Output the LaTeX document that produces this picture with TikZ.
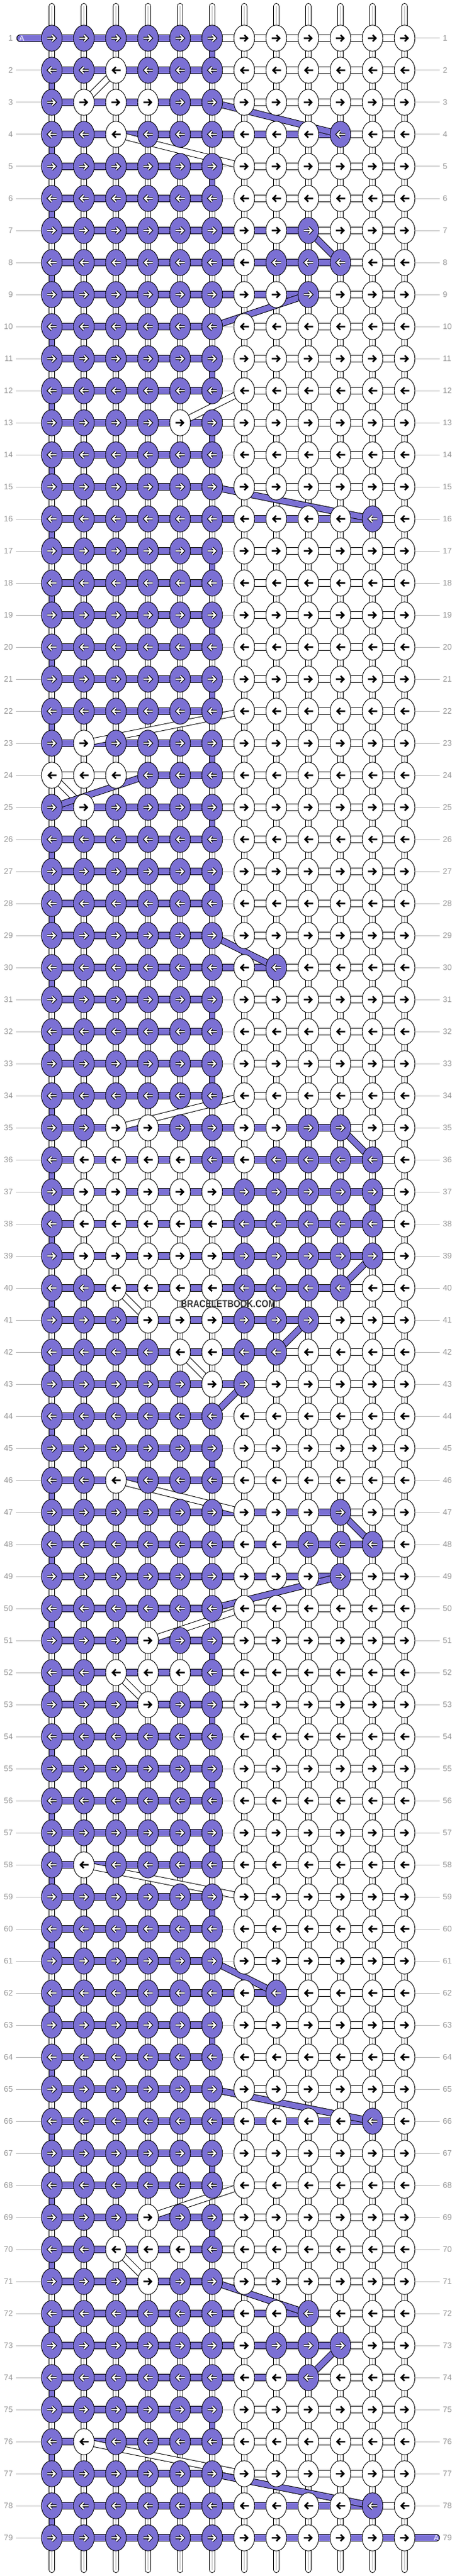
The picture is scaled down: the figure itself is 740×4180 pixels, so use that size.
\documentclass[tikz,border=0pt]{standalone}
\usepackage{fontspec}
\setmainfont{Liberation Sans}
\usetikzlibrary{shapes.geometric}
\definecolor{pp}{RGB}{123,112,212}
\definecolor{lbl}{RGB}{150,150,150}
\definecolor{wm}{RGB}{55,55,55}
\tikzset{
 knotbase/.style={ellipse, draw=black, line width=0.9pt, minimum width=33.6pt, minimum height=42.4pt, inner sep=0pt, outer sep=0pt},
 knotP/.style={knotbase, fill=pp},
 knotW/.style={knotbase, fill=white},
 arrB/.style={draw=black, line width=2.6pt, line join=miter},
 arrO/.style={draw=black, line width=4.4pt, line join=miter},
 arrI/.style={draw=white, line width=2.2pt, line join=miter},
 hO/.style={draw=black, line width=12pt},
 hP/.style={draw=pp, line width=10pt},
 hW/.style={draw=white, line width=10pt},
 vO/.style={draw=black, line width=10.4pt},
 vP/.style={draw=pp, line width=8.4pt},
 vW/.style={draw=white, line width=8.4pt},
 vG/.style={draw=gray!35, line width=2.4pt},
 gapline/.style={draw=gray!50, line width=0.8pt},
 dO/.style={draw=black, line width=11pt},
 dP/.style={draw=pp, line width=9pt},
 dW/.style={draw=white, line width=9pt},
 labelline/.style={draw=lbl!70, line width=1pt},
 lbl/.style={text=lbl, font=\fontsize{13}{13}\selectfont, inner sep=0pt},
}
\def\rowdata{1/{0}/1/6/6/6, 2/{3}/1/6/3/1, 3/{2,3,4}/1/6/2/0, 4/{3,10}/1/10/3/1, 5/{0}/1/6/7/6, 6/{0}/1/6/7/1, 7/{9}/1/9/7/0, 8/{8,9,10}/1/10/7/1, 9/{9}/1/9/7/0, 10/{0}/1/6/7/1, 11/{0}/1/6/7/6, 12/{0}/1/6/7/1, 13/{5}/1/6/5/6, 14/{0}/1/6/7/1, 15/{0}/1/6/7/0, 16/{11}/1/11/7/1, 17/{0}/1/6/7/6, 18/{0}/1/6/7/1, 19/{0}/1/6/7/6, 20/{0}/1/6/7/1, 21/{0}/1/6/7/6, 22/{0}/1/6/7/1, 23/{2}/1/6/2/6, 24/{1,2,3}/4/6/1/0, 25/{2}/1/6/2/6, 26/{0}/1/6/7/1, 27/{0}/1/6/7/6, 28/{0}/1/6/7/1, 29/{0}/1/6/7/0, 30/{8}/1/8/7/1, 31/{0}/1/6/7/6, 32/{0}/1/6/7/1, 33/{0}/1/6/7/6, 34/{0}/1/6/7/1, 35/{3,4,9,10}/1/10/3/0, 36/{2,3,4,5,8,9,10,11}/1/11/2/1, 37/{2,3,4,5,6,7,8,9,10,11}/1/11/2/11, 38/{2,3,4,5,6,7,8,9,10,11}/1/11/2/1, 39/{2,3,4,5,6,7,8,9,10,11}/1/11/2/0, 40/{3,4,5,6,7,8,9,10}/1/10/3/1, 41/{4,5,6,7,8,9}/1/9/4/0, 42/{5,6,7,8}/1/8/5/1, 43/{6,7}/1/7/6/0, 44/{0}/1/6/7/1, 45/{0}/1/6/7/6, 46/{3}/1/6/3/1, 47/{10}/1/10/7/0, 48/{9,10,11}/1/11/7/1, 49/{10}/1/10/7/0, 50/{0}/1/6/7/1, 51/{4}/1/6/4/6, 52/{3,4,5}/1/6/3/1, 53/{4}/1/6/4/6, 54/{0}/1/6/7/1, 55/{0}/1/6/7/6, 56/{0}/1/6/7/1, 57/{0}/1/6/7/6, 58/{2}/1/6/2/1, 59/{0}/1/6/7/6, 60/{0}/1/6/7/1, 61/{0}/1/6/7/0, 62/{8}/1/8/7/1, 63/{0}/1/6/7/6, 64/{0}/1/6/7/1, 65/{0}/1/6/7/0, 66/{11}/1/11/7/1, 67/{0}/1/6/7/6, 68/{0}/1/6/7/1, 69/{4}/1/6/4/6, 70/{3,4,5}/1/6/3/1, 71/{4}/1/6/4/0, 72/{9}/1/9/7/1, 73/{8,9,10}/1/10/7/0, 74/{9}/1/9/7/1, 75/{0}/1/6/7/6, 76/{2}/1/6/2/1, 77/{0}/1/6/7/0, 78/{11}/1/11/7/1, 79/{0}/1/12/7/0}
\begin{document}
\begin{tikzpicture}[x=1pt,y=-1pt]
\useasboundingbox (0,0) rectangle (740,4180);
\fill[white] (0,0) rectangle (740,4180);
% grid coordinates
\foreach \rr in {1,...,79}{
  \foreach \cc in {1,...,12}{
    \coordinate (p-\rr-\cc) at ({84+(\cc-1)*52},{62+(\rr-1)*52});
  }
}
% toggles
\foreach \rr/\tg/\pa/\pb/\wa/\pv in \rowdata {
  \foreach \t in \tg {\expandafter\gdef\csname tg-\rr-\t\endcsname{}}
}
% label lines
\foreach \rr in {1,...,79}{
  \pgfmathsetmacro\Y{62+(\rr-1)*52}
  \ifnum\rr>1
    \coordinate (lls-\rr) at (26,\Y);
    \draw[labelline] (lls-\rr) -- (p-\rr-1);
  \fi
  \ifnum\rr<79
    \coordinate (lrs-\rr) at (713,\Y);
    \draw[labelline] (p-\rr-12) -- (lrs-\rr);
  \fi
}
% top and bottom strings
\foreach \cc in {1,...,12}{
  \pgfmathsetmacro\X{84+(\cc-1)*52}
  \coordinate (t-\cc) at (\X,10.2);
  \coordinate (b-\cc) at (\X,4169.8);
  \draw[vO, line cap=round] (t-\cc) -- (p-1-\cc);
  \draw[vW, line cap=round] (t-\cc) -- (p-1-\cc);
  \draw[vG] (t-\cc) -- (p-1-\cc);
  \draw[vO, line cap=round] (p-79-\cc) -- (b-\cc);
  \draw[vW, line cap=round] (p-79-\cc) -- (b-\cc);
  \draw[vG] (p-79-\cc) -- (b-\cc);
}
% vertical connectors
\foreach \rr/\tg/\pa/\pb/\wa/\pv in \rowdata {
  \ifnum\rr<79
  \pgfmathtruncatemacro\rn{\rr+1}
  \foreach \cc in {1,...,12}{
    \ifnum\cc=\pv\relax
      \draw[vO] (p-\rr-\cc) -- (p-\rn-\cc);
      \draw[vP] (p-\rr-\cc) -- (p-\rn-\cc);
    \else
      \draw[vO] (p-\rr-\cc) -- (p-\rn-\cc);
      \draw[vW] (p-\rr-\cc) -- (p-\rn-\cc);
      \draw[vG] (p-\rr-\cc) -- (p-\rn-\cc);
    \fi
  }
  \fi
}
% horizontal bars
\foreach \rr/\tg/\pa/\pb/\wa/\pv in \rowdata {
  \foreach \cc in {1,...,11}{
    \pgfmathtruncatemacro\cn{\cc+1}
    \pgfmathtruncatemacro\isP{and(\cc>=\pa,\cn<=\pb)}
    \pgfmathtruncatemacro\isW{\cc>=\wa}
    \ifnum\isP=1
      \draw[hO] (p-\rr-\cc) -- (p-\rr-\cn);
      \draw[hP] (p-\rr-\cc) -- (p-\rr-\cn);
    \else
      \ifnum\isW=1
        \draw[hO] (p-\rr-\cc) -- (p-\rr-\cn);
        \draw[hW] (p-\rr-\cc) -- (p-\rr-\cn);
      \else
        \draw[gapline] (p-\rr-\cc) -- (p-\rr-\cn);
      \fi
    \fi
  }
}
% A stubs
\coordinate (aL) at (32.7,62);
\coordinate (aR) at (707.3,4118);
\draw[hO, line cap=round] (aL) -- (p-1-1);
\draw[hP, line cap=round] (aL) -- (p-1-1);
\draw[hO, line cap=round] (p-79-12) -- (aR);
\draw[hP, line cap=round] (p-79-12) -- (aR);
% white diagonals
\foreach \rr/\ca/\cb in {2/3/2, 4/3/7, 12/7/5, 22/7/2, 24/1/2, 34/7/3, 40/3/4, 42/5/6, 46/3/7, 50/7/4, 52/3/4, 58/2/7, 68/7/4, 70/3/4, 76/2/7}{
  \pgfmathtruncatemacro\rn{\rr+1}
  \draw[dO] (p-\rr-\ca) -- (p-\rn-\cb);
  \draw[dW] (p-\rr-\ca) -- (p-\rn-\cb);
}
% purple diagonals
\foreach \rr/\ca/\cb in {3/6/10, 7/9/10, 9/9/6, 15/6/11, 24/4/1, 29/6/8, 35/10/11, 39/11/10, 41/9/8, 43/7/6, 47/10/11, 49/10/6, 61/6/8, 65/6/11, 71/6/9, 73/10/9, 77/6/11}{
  \pgfmathtruncatemacro\rn{\rr+1}
  \draw[dO] (p-\rr-\ca) -- (p-\rn-\cb);
  \draw[dP] (p-\rr-\ca) -- (p-\rn-\cb);
}
% knots
\foreach \rr/\tg/\pa/\pb/\wa/\pv in \rowdata {
  \pgfmathtruncatemacro\dir{1-2*mod(\rr+1,2)}
  \pgfmathsetmacro\Y{62+(\rr-1)*52}
  \foreach \cc in {1,...,12}{
    \pgfmathsetmacro\X{84+(\cc-1)*52}
    \pgfmathtruncatemacro\base{\cc<=6}
    \ifcsname tg-\rr-\cc\endcsname
      \pgfmathtruncatemacro\isp{1-\base}
    \else
      \let\isp\base
    \fi
    \def\arrpath{({\X-7.5*\dir},\Y) -- ({\X+5*\dir},\Y) ({\X+0.2*\dir},{\Y-5.2}) -- ({\X+5.4*\dir},\Y) -- ({\X+0.2*\dir},{\Y+5.2})}
    \ifnum\isp=1
      \node[knotP] (k-\rr-\cc) at (p-\rr-\cc) {};
      \draw[arrO] \arrpath;
      \draw[arrI] \arrpath;
    \else
      \node[knotW] (k-\rr-\cc) at (p-\rr-\cc) {};
      \draw[arrB] \arrpath;
    \fi
  }
}
% A labels
\node[text=white, font=\fontsize{12}{12}\selectfont, inner sep=0pt] (aLt) at (35.3,62) {A};
\node[text=white, font=\fontsize{12}{12}\selectfont, inner sep=0pt] (aRt) at (707.3,4118) {A};
% row labels
\foreach \rr in {1,...,79}{
  \pgfmathsetmacro\Y{62+(\rr-1)*52}
  \node[lbl, anchor=east] (ll-\rr) at (21,\Y) {\rr};
  \node[lbl, anchor=west] (lr-\rr) at (718,\Y) {\rr};
}
% watermark
\node[text=wm, font=\bfseries\fontsize{16.5}{16.5}\selectfont, inner sep=0pt] (wmk) at (370,2116) {\scalebox{0.84}[1]{BRACELETBOOK.COM}};
\end{tikzpicture}
\end{document}
